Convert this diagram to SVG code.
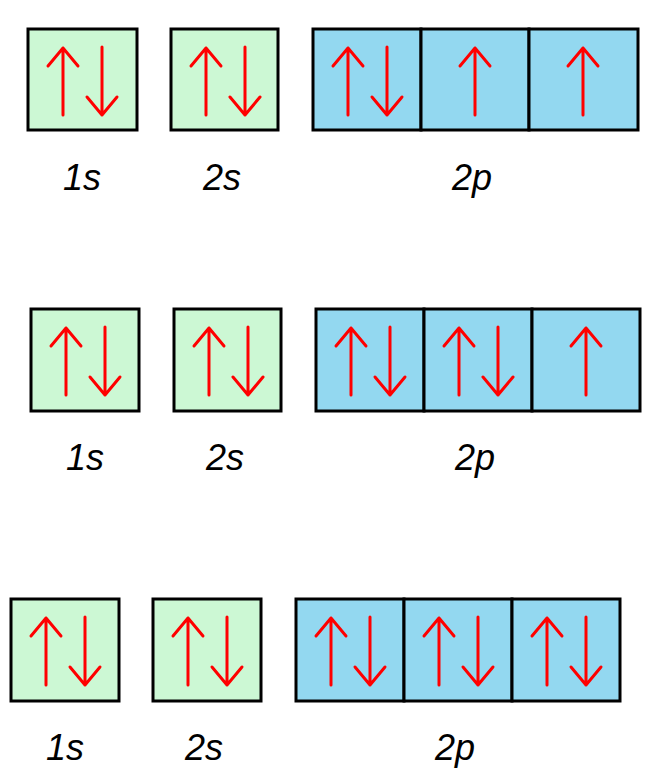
<svg xmlns="http://www.w3.org/2000/svg" width="646" height="780" viewBox="0 0 646 780">
<style>
.s{fill:#ccf8d4;stroke:#000;stroke-width:3}
.p{fill:#93d8f0;stroke:#000;stroke-width:3}
.a{fill:none;stroke:#f00;stroke-width:3;stroke-linecap:round;stroke-linejoin:round}
.t{font-family:"Liberation Sans",Arial,sans-serif;font-style:italic;font-size:36px;text-anchor:middle}
</style>
<defs>
<path id="up" class="a" d="M0,86V19M-15,37L0,19L15,37"/>
<path id="dn" class="a" d="M0,18V86M-15,68L0,86L15,68"/>
<g id="pair"><use href="#up" x="35"/><use href="#dn" x="74"/></g>
<g id="single"><use href="#up" x="54"/></g>
</defs>
<g id="row1" transform="translate(28,29)">
<g id="r1-1s"><rect class="s" x="0" y="0" width="109" height="101"/><use href="#pair"/><text class="t" x="54" y="161">1s</text></g>
<g id="r1-2s" transform="translate(143,0)"><rect class="s" x="0" y="0" width="107" height="101"/><use href="#pair"/><text class="t" x="51" y="161">2s</text></g>
<g id="r1-2p" transform="translate(285,0)"><rect class="p" x="0" y="0" width="108" height="101"/><rect class="p" x="108" y="0" width="108" height="101"/><rect class="p" x="216" y="0" width="109" height="101"/><use href="#pair"/><use href="#single" x="108"/><use href="#single" x="216"/><text class="t" x="159" y="161">2p</text></g>
</g>
<g id="row2" transform="translate(31,309)">
<g id="r2-1s"><rect class="s" x="0" y="0" width="108" height="102"/><use href="#pair"/><text class="t" x="54" y="161">1s</text></g>
<g id="r2-2s" transform="translate(143,0)"><rect class="s" x="0" y="0" width="107" height="102"/><use href="#pair"/><text class="t" x="51" y="161">2s</text></g>
<g id="r2-2p" transform="translate(285,0)"><rect class="p" x="0" y="0" width="108" height="102"/><rect class="p" x="108" y="0" width="108" height="102"/><rect class="p" x="216" y="0" width="108" height="102"/><use href="#pair"/><use href="#pair" x="108"/><use href="#single" x="216"/><text class="t" x="159" y="161">2p</text></g>
</g>
<g id="row3" transform="translate(11,599)">
<g id="r3-1s"><rect class="s" x="0" y="0" width="108" height="102"/><use href="#pair"/><text class="t" x="54" y="161">1s</text></g>
<g id="r3-2s" transform="translate(142,0)"><rect class="s" x="0" y="0" width="108" height="102"/><use href="#pair"/><text class="t" x="51" y="161">2s</text></g>
<g id="r3-2p" transform="translate(285,0)"><rect class="p" x="0" y="0" width="108" height="102"/><rect class="p" x="108" y="0" width="108" height="102"/><rect class="p" x="216" y="0" width="108" height="102"/><use href="#pair"/><use href="#pair" x="108"/><use href="#pair" x="216"/><text class="t" x="159" y="161">2p</text></g>
</g>
<g id="connectors"/>
</svg>
